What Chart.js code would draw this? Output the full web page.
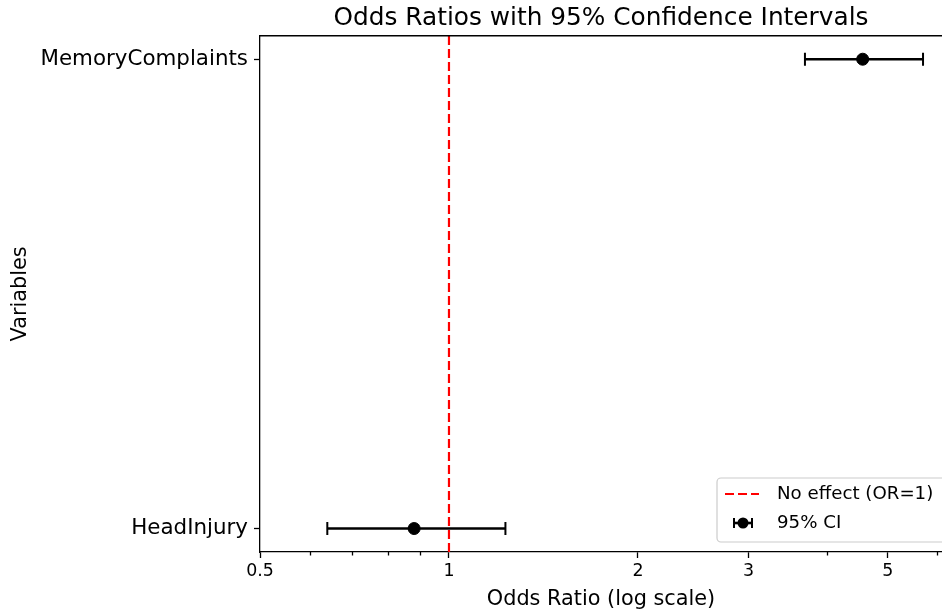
<!DOCTYPE html>
<html>
<head>
<meta charset="utf-8">
<script src="https://cdn.jsdelivr.net/npm/chart.js@4.4.0/dist/chart.umd.min.js"></script>
<style>
  html, body { margin: 0; padding: 0; background: #fff; }
</style>
</head>
<body>
<canvas id="orChart" width="942" height="613"></canvas>
<script>
// Daten (von unten nach oben, wie im Plot)
const variables = ['HeadInjury', 'MemoryComplaints'];
const oddsRatios = [0.88, 4.56];
const ciLower = [0.64, 3.69];
const ciUpper = [1.23, 5.69];

// Achsen-Ticks
const xTickValues = [0.5, 1, 2, 3, 5];
const xMinorValues = [0.6, 0.7, 0.8, 0.9, 4, 6];
const refValue = 1;

Chart.defaults.font.family = "'DejaVu Sans', sans-serif";
Chart.defaults.color = '#000';

// Obere Achsenlinie, kleine Ticks und Legende selbst zeichnen
const frameAndLegend = {
    id: 'frameAndLegend',
    afterDraw(chart) {
        const ctx = chart.ctx;
        const a = chart.chartArea;
        const x = chart.scales.x;
        ctx.save();
        ctx.strokeStyle = '#000';
        ctx.lineWidth = 1.3;
        ctx.beginPath();
        ctx.moveTo(a.left, a.top);
        ctx.lineTo(a.right, a.top);
        ctx.stroke();

        // minor ticks
        xMinorValues.forEach(v => {
            const px = Math.round(x.getPixelForValue(v)) + 0.5;
            ctx.beginPath();
            ctx.moveTo(px, a.bottom);
            ctx.lineTo(px, a.bottom + 3.5);
            ctx.stroke();
        });

        // Legende unten rechts
        const left = a.right - 225;
        const top = a.bottom - 74;
        ctx.fillStyle = 'rgba(255,255,255,0.8)';
        ctx.strokeStyle = '#cccccc';
        ctx.lineWidth = 1.2;
        ctx.beginPath();
        ctx.roundRect(left, top, 240, 64, 4);
        ctx.fill();
        ctx.stroke();

        const row1 = top + 16;
        const row2 = top + 45;

        ctx.strokeStyle = 'red';
        ctx.lineWidth = 2.2;
        ctx.setLineDash([9, 4]);
        ctx.beginPath();
        ctx.moveTo(left + 8, row1);
        ctx.lineTo(left + 42, row1);
        ctx.stroke();
        ctx.setLineDash([]);

        const cx = left + 26;
        ctx.strokeStyle = '#000';
        ctx.lineWidth = 2.6;
        ctx.beginPath();
        ctx.moveTo(cx - 9, row2);
        ctx.lineTo(cx + 9, row2);
        ctx.stroke();
        ctx.lineWidth = 2;
        ctx.beginPath();
        ctx.moveTo(cx - 9, row2 - 5);
        ctx.lineTo(cx - 9, row2 + 5);
        ctx.moveTo(cx + 9, row2 - 5);
        ctx.lineTo(cx + 9, row2 + 5);
        ctx.stroke();
        ctx.fillStyle = '#000';
        ctx.beginPath();
        ctx.arc(cx, row2, 5.5, 0, Math.PI * 2);
        ctx.fill();

        ctx.font = "18.2px 'DejaVu Sans', sans-serif";
        ctx.textBaseline = 'middle';
        ctx.textAlign = 'left';
        ctx.fillText('No effect (OR=1)', left + 60, row1);
        ctx.fillText('95% CI', left + 60, row2);
        ctx.restore();
    }
};

const datasets = [
    {
        label: '95% CI',
        data: variables.map((v, i) => ({ x: oddsRatios[i], y: i })),
        showLine: false,
        pointRadius: 6,
        pointBackgroundColor: '#000',
        pointBorderColor: '#000',
        order: 0
    }
];

// Konfidenzintervalle als Linien mit Kappen
variables.forEach((v, i) => {
    datasets.push({
        label: 'CI ' + v,
        data: [{ x: ciLower[i], y: i }, { x: ciUpper[i], y: i }],
        showLine: true,
        borderColor: '#000',
        borderWidth: 2.6,
        pointStyle: 'line',
        rotation: 90,
        pointRadius: 6.5,
        pointBorderWidth: 2,
        pointBorderColor: '#000',
        order: 1
    });
});

datasets.push({
    label: 'No effect (OR=1)',
    data: [{ x: refValue, y: -0.05 }, { x: refValue, y: 1.05 }],
    showLine: true,
    borderColor: 'red',
    borderWidth: 2.2,
    borderDash: [9, 4],
    pointRadius: 0,
    order: 2
});

const config = {
    type: 'scatter',
    data: { datasets: datasets },
    options: {
        responsive: false,
        animation: false,
        layout: { padding: 0, autoPadding: false },
        plugins: {
            legend: { display: false },
            tooltip: { enabled: false },
            title: {
                display: true,
                fullSize: false,
                text: 'Odds Ratios with 95% Confidence Intervals',
                font: { size: 24.8, weight: 'normal' },
                color: '#000',
                padding: { top: 4, bottom: 2 }
            }
        },
        scales: {
            x: {
                type: 'logarithmic',
                min: 0.5,
                max: 6.1,
                afterBuildTicks: scale => {
                    scale.ticks = xTickValues.map(v => ({ value: v }));
                },
                afterFit: scale => {
                    scale.height = 61;
                    scale.paddingLeft = 0;
                    scale.paddingRight = 0;
                },
                ticks: {
                    font: { size: 17.4 },
                    color: '#000',
                    padding: 3,
                    maxRotation: 0,
                    autoSkip: false,
                    callback: value => String(value)
                },
                grid: {
                    drawOnChartArea: false,
                    tickLength: 6,
                    tickColor: '#000',
                    tickWidth: 1.3
                },
                border: { display: true, color: '#000', width: 1.3 },
                title: {
                    display: true,
                    text: 'Odds Ratio (log scale)',
                    font: { size: 20.8 },
                    color: '#000',
                    padding: { top: 0, bottom: 1 }
                }
            },
            y: {
                type: 'linear',
                min: -0.05,
                max: 1.05,
                afterBuildTicks: scale => {
                    scale.ticks = variables.map((v, i) => ({ value: i }));
                },
                afterFit: scale => {
                    scale.width = 260;
                    scale.paddingTop = 0;
                    scale.paddingBottom = 0;
                },
                ticks: {
                    font: { size: 21.4 },
                    color: '#000',
                    padding: 6,
                    autoSkip: false,
                    callback: value => variables[value]
                },
                grid: {
                    drawOnChartArea: false,
                    tickLength: 6,
                    tickColor: '#000',
                    tickWidth: 1.3
                },
                border: { display: true, color: '#000', width: 1.3 },
                title: {
                    display: true,
                    text: 'Variables',
                    font: { size: 20.8 },
                    color: '#000',
                    padding: { top: 8, bottom: 0 }
                }
            }
        }
    },
    plugins: [frameAndLegend]
};

const orChart = new Chart(document.getElementById('orChart'), config);
</script>
</body>
</html>
